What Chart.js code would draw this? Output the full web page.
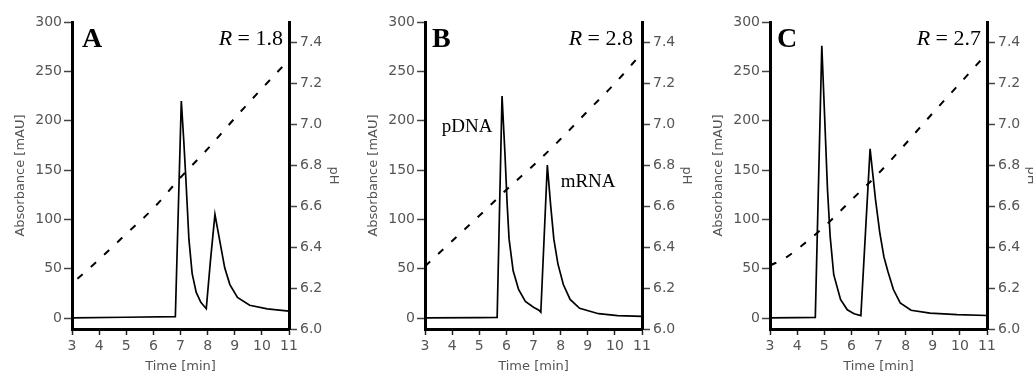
<!DOCTYPE html>
<html>
<head>
<meta charset="utf-8">
<script src="https://cdn.jsdelivr.net/npm/chart.js@4"></script>
<style>
html, body { margin: 0; padding: 0; background: #fff; overflow: hidden; width: 1033px; height: 374px; }
.panel { position: absolute; top: 0; width: 345px; height: 374px; }
</style>
</head>
<body>
<div class="panel" style="left:0px"><canvas id="chartA" width="345" height="374"></canvas></div>
<div class="panel" style="left:353px"><canvas id="chartB" width="345" height="374"></canvas></div>
<div class="panel" style="left:698px"><canvas id="chartC" width="345" height="374"></canvas></div>
<script>
// axis ticks
const xTicks = [3, 4, 5, 6, 7, 8, 9, 10, 11];
const absTicks = [0, 50, 100, 150, 200, 250, 300];
const phTicks = [6.0, 6.2, 6.4, 6.6, 6.8, 7.0, 7.2, 7.4];

// Panel A - absorbance trace and pH gradient
const timeA = [3.0, 5.0, 6.81, 7.03, 7.12, 7.2, 7.31, 7.43, 7.58, 7.75, 7.95, 8.1, 8.27, 8.45, 8.63, 8.82, 9.1, 9.55, 10.2, 11.0];
const absA  = [0.3, 0.9, 1.5, 220, 180, 140, 80, 45, 26, 16, 9.5, 57, 105, 78, 51, 34, 21, 13, 9.4, 7.2];
const phTimeA = [3.2, 4.0, 5.0, 6.0, 7.0, 8.0, 9.0, 10.0, 10.82];
const phA     = [6.245, 6.34, 6.465, 6.59, 6.74, 6.88, 7.03, 7.175, 7.29];

// Panel B
const timeB = [3.0, 5.0, 5.66, 5.84, 5.95, 6.03, 6.1, 6.25, 6.45, 6.7, 7.0, 7.2, 7.27, 7.51, 7.63, 7.75, 7.9, 8.1, 8.35, 8.7, 9.4, 10.1, 11.0];
const absB  = [0.3, 0.5, 0.8, 225, 165, 115, 80, 48, 29, 17, 11, 8, 6, 155, 115, 80, 55, 34, 19, 10, 4.5, 2.6, 1.7];
const phTimeB = [3.0, 4.0, 5.0, 6.0, 7.0, 8.0, 9.0, 10.0, 10.96];
const phB     = [6.306, 6.43, 6.553, 6.68, 6.80, 6.928, 7.065, 7.20, 7.343];

// Panel C
const timeC = [3.0, 4.0, 4.67, 4.91, 5.02, 5.12, 5.22, 5.35, 5.6, 5.85, 6.1, 6.35, 6.69, 6.89, 7.05, 7.2, 7.35, 7.55, 7.8, 8.2, 8.9, 9.9, 11.0];
const absC  = [0.3, 0.5, 0.8, 276, 200, 130, 82, 44, 19, 8.5, 4.5, 2.5, 171.5, 120, 86, 62, 47, 29, 15.5, 8, 5, 3.5, 2.7];
const phTimeC = [3.0, 3.6, 4.2, 5.0, 6.0, 7.0, 8.0, 9.0, 10.0, 10.85];
const phC     = [6.31, 6.35, 6.41, 6.50, 6.63, 6.76, 6.905, 7.055, 7.20, 7.325];

// peak labels (only panel B has them)
const notesB = [
    { text: "pDNA", x: 3.62, y: 189 },
    { text: "mRNA", x: 8.0, y: 133 }
];

const gray = "#555";
const tickFont = { family: "DejaVu Sans", size: 14 };
const titleFont = { family: "DejaVu Sans", size: 13 };

const pairs = (xs, ys) => xs.map((x, i) => ({ x: x, y: ys[i] }));

// panel letter, resolution value and peak names
const panelText = {
    id: "panelText",
    afterDatasetsDraw(chart, args, opts) {
        const { ctx, chartArea: area, scales } = chart;
        ctx.save();
        ctx.fillStyle = "#000";
        ctx.textBaseline = "alphabetic";
        ctx.textAlign = "left";

        ctx.font = 'bold 28px "Liberation Serif"';
        ctx.fillText(opts.letter, area.left + opts.letterDx, area.top + 25);

        ctx.font = '22px "Liberation Serif"';
        const rest = " = " + opts.r;
        const x0 = area.right - opts.rDx - ctx.measureText(rest).width;
        ctx.fillText(rest, x0, area.top + 23);
        ctx.font = 'italic 22px "Liberation Serif"';
        ctx.fillText("R", x0 - ctx.measureText("R").width, area.top + 23);

        ctx.font = '19px "Liberation Serif"';
        (opts.notes || []).forEach(n => {
            ctx.fillText(n.text, scales.x.getPixelForValue(n.x), scales.y.getPixelForValue(n.y));
        });
        ctx.restore();
    }
};

function drawPanel(id, letter, r, t, a, pt, p, notes, letterDx, rDx) {
    const ctx = document.getElementById(id).getContext("2d");
    return new Chart(ctx, {
        type: "line",
        data: {
            datasets: [
                {
                    data: pairs(t, a),
                    yAxisID: "y",
                    borderColor: "#000",
                    borderWidth: 1.7,
                    pointRadius: 0,
                    tension: 0,
                    fill: false
                },
                {
                    data: pairs(pt, p),
                    yAxisID: "y2",
                    borderColor: "#000",
                    borderWidth: 2,
                    borderDash: [7, 11],
                    pointRadius: 0,
                    cubicInterpolationMode: "monotone",
                    fill: false
                }
            ]
        },
        plugins: [panelText],
        options: {
            responsive: false,
            animation: false,
            devicePixelRatio: 1,
            layout: { padding: { top: 22, left: 0, right: 0, bottom: 0 } },
            plugins: {
                legend: { display: false },
                tooltip: { enabled: false },
                panelText: { letter: letter, r: r, notes: notes, letterDx: letterDx, rDx: rDx }
            },
            scales: {
                x: {
                    type: "linear",
                    min: 3,
                    max: 11,
                    afterBuildTicks: s => { s.ticks = xTicks.map(v => ({ value: v })); },
                    afterFit: s => { s.height = 45; },
                    border: { color: "#000", width: 3 },
                    grid: { drawOnChartArea: false, drawTicks: true, tickLength: 6, tickColor: "#222", tickWidth: 1.5 },
                    ticks: { color: gray, font: tickFont, padding: 3, maxRotation: 0 },
                    title: { display: true, text: "Time [min]", color: gray, font: titleFont, padding: 0 }
                },
                y: {
                    position: "left",
                    min: -11,
                    max: 300,
                    afterBuildTicks: s => { s.ticks = absTicks.map(v => ({ value: v })); },
                    afterFit: s => { s.width = 72; },
                    border: { color: "#000", width: 3 },
                    grid: { drawOnChartArea: false, drawTicks: true, tickLength: 8, tickColor: "#444", tickWidth: 1.5 },
                    ticks: { color: gray, font: tickFont, padding: 2 },
                    title: { display: true, text: "Absorbance [mAU]", color: gray, font: titleFont, padding: { top: 13, bottom: 0 } }
                },
                y2: {
                    position: "right",
                    min: 6.0,
                    max: 7.5,
                    afterBuildTicks: s => { s.ticks = phTicks.map(v => ({ value: v })); },
                    afterFit: s => { s.width = 56; },
                    border: { color: "#000", width: 3 },
                    grid: { drawOnChartArea: false, drawTicks: true, tickLength: 8, tickColor: "#444", tickWidth: 1.5 },
                    ticks: { color: gray, font: tickFont, padding: 3, callback: v => v.toFixed(1) },
                    title: { display: true, text: "pH", color: gray, font: titleFont, padding: { top: 4, bottom: 0 } }
                }
            }
        }
    });
}

drawPanel("chartA", "A", "1.8", timeA, absA, phTimeA, phA, [], 10, 6);
drawPanel("chartB", "B", "2.8", timeB, absB, phTimeB, phB, notesB, 7, 9);
drawPanel("chartC", "C", "2.7", timeC, absC, phTimeC, phC, [], 7, 6);
</script>
</body>
</html>
